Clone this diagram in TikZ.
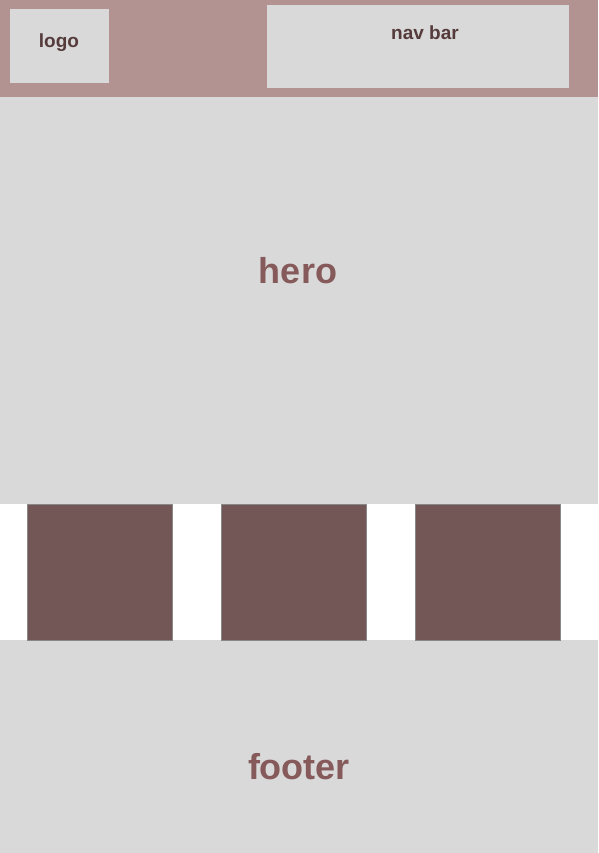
\documentclass[tikz,border=0pt]{standalone}
\usepackage{fontspec}
\setmainfont{Liberation Sans}
\usetikzlibrary{positioning}
\definecolor{headbg}{HTML}{B39391}
\definecolor{panel}{HTML}{D9D9D9}
\definecolor{cardfill}{HTML}{735757}
\definecolor{cardline}{HTML}{888888}
\definecolor{darktext}{HTML}{553B3B}
\definecolor{softtext}{HTML}{865A5A}
\tikzset{
  region/.style={fill=#1, inner sep=0pt, outer sep=0pt},
  headbox/.style={fill=panel, inner sep=0pt, outer sep=0pt},
  card/.style={draw=cardline, line width=0.8pt, fill=cardfill, inner sep=0pt, minimum width=145, minimum height=136},
  smalllabel/.style={font=\fontsize{19}{19}\selectfont\bfseries, text=darktext, anchor=base},
  biglabel/.style={font=\fontsize{36}{36}\selectfont\bfseries, text=softtext, anchor=base}
}

\begin{document}
\begin{tikzpicture}[x=1pt, y=-1pt]
  \useasboundingbox (0,0) rectangle (598,853);
  % page regions
  \fill[headbg] (0,0) rectangle (598,97);
  \fill[panel] (0,97) rectangle (598,504);
  \fill[panel] (0,640) rectangle (598,853);
  % header boxes
  \fill[panel] (10,9) rectangle (109,83);
  \fill[panel] (267,5) rectangle (569,88);
  \node[smalllabel] (logo) at (59,48) {logo};
  \node[smalllabel] (nav) at (425,40) {nav bar};
  \node[biglabel] (hero) at (298,283) {hero};
  % three cards
  \node[card] (card1) at (100,572) {};
  \node[card] (card2) at (294,572) {};
  \node[card] (card3) at (488,572) {};
  \node[biglabel] (footer) at (299,779) {footer};
\end{tikzpicture}
\end{document}
